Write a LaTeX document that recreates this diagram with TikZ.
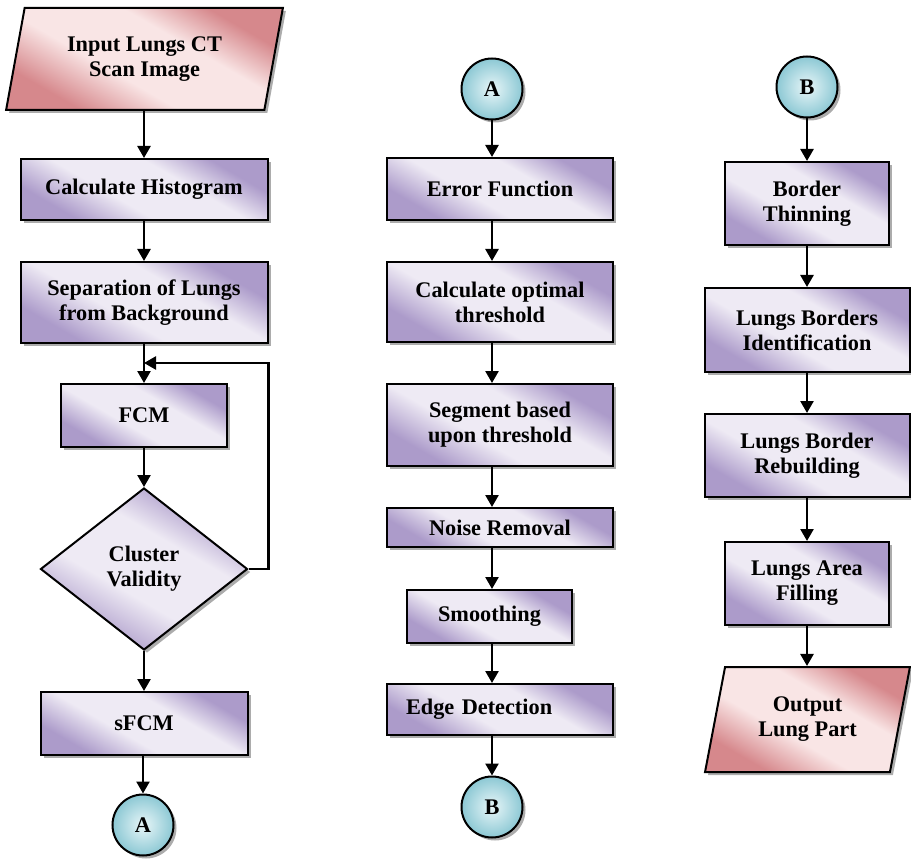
\documentclass[tikz,border=0pt]{standalone}
\usepackage{fontspec}
\setmainfont{Liberation Serif}
\usetikzlibrary{shapes.geometric,shadows,arrows.meta}
\definecolor{boxdark}{RGB}{172,155,202}
\definecolor{boxlight}{RGB}{238,234,244}
\definecolor{pinkdark}{RGB}{214,136,140}
\definecolor{pinklight}{RGB}{249,229,229}
\definecolor{cyandark}{RGB}{140,200,212}
\definecolor{cyanlight}{RGB}{232,246,248}
\pgfdeclarehorizontalshading{boxshade}{100bp}{color(0bp)=(boxdark); color(27bp)=(boxdark); color(42bp)=(boxlight); color(60bp)=(boxlight); color(73bp)=(boxdark); color(100bp)=(boxdark)}
\pgfdeclarehorizontalshading{pinkshade}{100bp}{color(0bp)=(pinkdark); color(27bp)=(pinkdark); color(42bp)=(pinklight); color(60bp)=(pinklight); color(73bp)=(pinkdark); color(100bp)=(pinkdark)}
\begin{document}
\begin{tikzpicture}[x=1pt,y=-1pt,
  every node/.style={font=\fontsize{22.3}{25}\selectfont\bfseries, align=center, inner sep=0pt},
  shad/.style={drop shadow={shadow xshift=3pt, shadow yshift=-3pt, fill=black!65}},
  proc/.style={rectangle, draw=black, line width=2pt, shad, shading=boxshade, shading angle=60},
  decis/.style={diamond, draw=black, line width=2pt, shad, shading=boxshade, shading angle=60},
  io/.style={trapezium, trapezium left angle=75, trapezium right angle=105,
    trapezium stretches=true, draw=black, line width=2pt, shad, shading=pinkshade, shading angle=60},
  conn/.style={circle, draw=black, line width=2pt, minimum size=61pt, shad,
    inner color=cyanlight, outer color=cyandark},
  arr/.style={line width=2.5pt, -{Triangle[width=13pt,length=12pt]}}
]
\useasboundingbox (0,0) rectangle (911,861);

% left column
\node[io, minimum width=277pt, minimum height=102pt] (in) at (144.5,59) {Input Lungs CT\\Scan Image};
\node[proc, minimum width=247pt, minimum height=61pt] (hist) at (144,189.5) {Calculate Histogram};
\node[proc, minimum width=247pt, minimum height=81pt] (sep) at (144,302.5) {Separation of Lungs\\from Background};
\node[proc, minimum width=166pt, minimum height=63pt] (fcm) at (144,415.5) {FCM};
\node[decis, minimum width=207pt, minimum height=162pt] (dia) at (144,569) {Cluster\\Validity};
\node[proc, minimum width=207pt, minimum height=63pt] (sfcm) at (144,723.5) {sFCM};
\node[conn] (A1) at (143,825) {A};
\coordinate (join) at (144,363);

\draw[arr] (in.south -| hist.north) -- (hist.north);
\draw[arr] (hist.south) -- (sep.north);
\draw[arr] (sep.south) -- (fcm.north);
\draw[arr] (fcm.south) -- (dia.north);
\draw[arr] (dia.south) -- (sfcm.north);
\draw[arr] (sfcm.south -| A1) -- (A1.north);
\draw[arr] (dia.east) -- ++(20,0) |- (join);

% middle column
\node[conn] (A2) at (492,89) {A};
\node[proc, minimum width=226pt, minimum height=62pt] (err) at (500,189) {Error Function};
\node[proc, minimum width=226pt, minimum height=80pt] (opt) at (500,302) {Calculate optimal\\threshold};
\node[proc, minimum width=226pt, minimum height=82pt] (seg) at (500,425) {Segment based\\upon threshold};
\node[proc, minimum width=226pt, minimum height=39pt] (noise) at (500,527.5) {Noise Removal};
\node[proc, minimum width=165pt, minimum height=53pt] (smooth) at (489.5,616.5) {Smoothing};
\node[proc, minimum width=226pt, minimum height=51pt, text width=188pt, inner xsep=19pt, align=left] (edge) at (500,709.5) {Edge Detection};
\node[conn] (B2) at (492,807) {B};

\draw[arr] (A2.south) -- (A2 |- err.north);
\draw[arr] (err.south -| A2) -- (opt.north -| A2);
\draw[arr] (opt.south -| A2) -- (seg.north -| A2);
\draw[arr] (seg.south -| A2) -- (noise.north -| A2);
\draw[arr] (noise.south -| A2) -- (smooth.north -| A2);
\draw[arr] (smooth.south -| A2) -- (edge.north -| A2);
\draw[arr] (edge.south -| A2) -- (B2.north);

% right column
\node[conn] (B3) at (807,87) {B};
\node[proc, minimum width=164pt, minimum height=83pt] (thin) at (807,203.5) {Border\\Thinning};
\node[proc, minimum width=205pt, minimum height=84pt] (ident) at (807,330) {Lungs Borders\\Identification};
\node[proc, minimum width=205pt, minimum height=83pt] (rebuild) at (807,455.5) {Lungs Border\\Rebuilding};
\node[proc, minimum width=164pt, minimum height=83pt] (fill) at (807,583.5) {Lungs Area\\Filling};
\node[io, minimum width=205pt, minimum height=105pt] (out) at (807.5,719.5) {Output\\Lung Part};

\draw[arr] (B3.south) -- (thin.north);
\draw[arr] (thin.south) -- (ident.north);
\draw[arr] (ident.south) -- (rebuild.north);
\draw[arr] (rebuild.south) -- (fill.north);
\draw[arr] (fill.south) -- (fill.south |- out.north);
\end{tikzpicture}
\end{document}
